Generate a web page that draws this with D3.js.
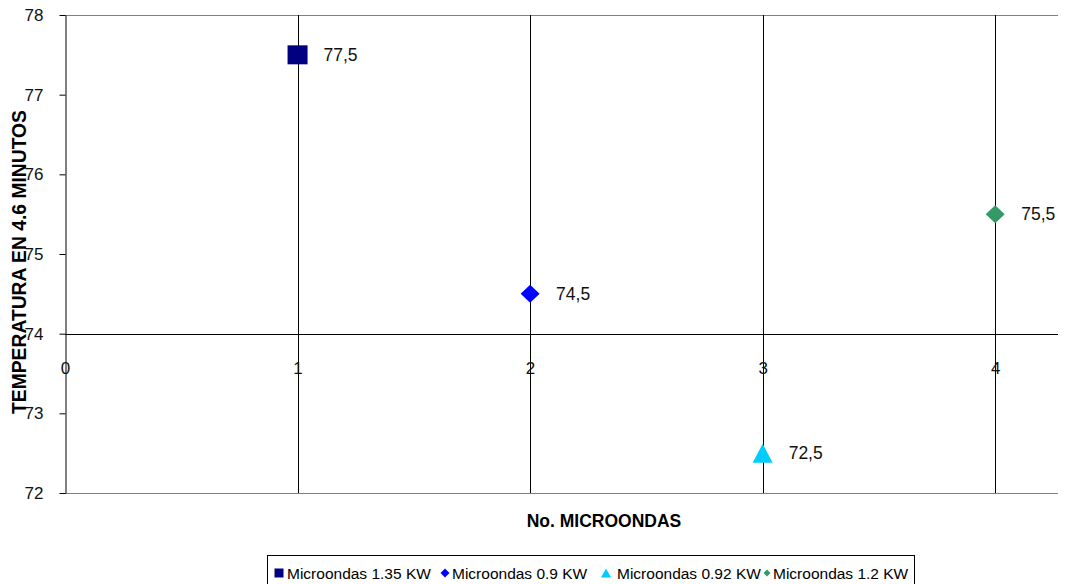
<!DOCTYPE html>
<html><head><meta charset="utf-8">
<script src="https://cdn.jsdelivr.net/npm/d3@7"></script>
<style>body{margin:0;background:#fff}svg{display:block}text{font-family:"Liberation Sans",Arial,sans-serif}</style>
</head><body>
<svg id="c" width="1068" height="584"></svg>
<script>
const seriesNames = ["Microondas 1.35 KW","Microondas 0.9 KW","Microondas 0.92 KW","Microondas 1.2 KW"];
const xValues = [1,2,3,4];
const yValues = [77.5,74.5,72.5,75.5];
const labels = ["77,5","74,5","72,5","75,5"];
const shapes = ["square","diamond","triangle","diamond"];
const colors = ["#000080","#0000FF","#00CCFF","#339966"];
const xTicks = [0,1,2,3,4];
const yTicks = [72,73,74,75,76,77,78];

const svg = d3.select("#c");
const L=65,R=1058,T=15,B=493;
const x = d3.scaleLinear().domain([0,4.27]).range([L,R]);
const y = d3.scaleLinear().domain([72,78]).range([B,T]);

// marker path generators (w = bbox width, h = bbox height)
function markerPath(shape, w, h){
  const a=w/2, b=h/2;
  if(shape==="square") return `M${-a},${-b}H${a}V${b}H${-a}Z`;
  if(shape==="diamond") return `M0,${-b}L${a},0L0,${b}L${-a},0Z`;
  return `M0,${-b}L${a},${b}L${-a},${b}Z`;
}

// top/bottom borders
svg.append("line").attr("x1",L).attr("x2",R).attr("y1",y(78)+0.5).attr("y2",y(78)+0.5).attr("stroke","#808080");
svg.append("line").attr("x1",L).attr("x2",R).attr("y1",y(72)+0.5).attr("y2",y(72)+0.5).attr("stroke","#808080");
// vertical gridlines
svg.selectAll(".vg").data(xTicks.filter(d=>d>0)).join("line")
  .attr("x1",d=>Math.round(x(d))+0.5).attr("x2",d=>Math.round(x(d))+0.5)
  .attr("y1",T).attr("y2",B).attr("stroke","#000");
// y axis
const ya = svg.append("g").attr("transform",`translate(${L+0.5},0)`)
  .call(d3.axisLeft(y).tickValues(yTicks).tickSize(6).tickSizeOuter(0).tickPadding(16).tickFormat(d3.format("d")));
ya.selectAll("path,line").attr("stroke","#000");
ya.selectAll("text").attr("font-size",17).attr("fill","#111").attr("font-family","Liberation Sans, Arial");
// x axis at y=74
const xa = svg.append("g").attr("transform",`translate(0,${Math.round(y(74))+0.5})`)
  .call(d3.axisBottom(x).tickValues(xTicks).tickSize(0).tickPadding(27).tickFormat(d3.format("d")));
xa.select("path").attr("stroke","#000").attr("d",`M${L},0H${R}`);
xa.selectAll("text").attr("font-size",17).attr("fill","#111").attr("font-family","Liberation Sans, Arial");

const msize = {square:[20,19], diamond:[19,18], triangle:[20,19]};
const g = svg.append("g");
xValues.forEach((xv,i)=>{
  const sh=shapes[i];
  const [w,h]=msize[sh];
  g.append("path").attr("d",markerPath(sh,w,h)).attr("fill",colors[i])
   .attr("transform",`translate(${x(xv)},${y(yValues[i])})`);
  g.append("text").attr("x",x(xv)+26).attr("y",y(yValues[i])+6).attr("font-size",17.5).attr("fill","#111").text(labels[i]);
});

// titles
svg.append("text").attr("transform",`translate(26,262) rotate(-90)`).attr("text-anchor","middle")
  .attr("font-size",19.3).attr("font-weight","bold").text("TEMPERATURA EN 4.6 MINUTOS");
svg.append("text").attr("x",604).attr("y",527).attr("text-anchor","middle")
  .attr("font-size",17.5).attr("font-weight","bold").text("No. MICROONDAS");

// legend
const lg = svg.append("g");
lg.append("rect").attr("x",267.5).attr("y",555.5).attr("width",647).attr("height",40).attr("fill","none").attr("stroke","#000");
const lmx = [279,445,606,767];
const ltx = [287,452,617,773];
const lsz = [[9,9],[9,9],[10,9],[7,7]];
seriesNames.forEach((n,i)=>{
  lg.append("path").attr("d",markerPath(shapes[i],lsz[i][0],lsz[i][1])).attr("fill",colors[i])
    .attr("transform",`translate(${lmx[i]},${573})`);
  lg.append("text").attr("x",ltx[i]).attr("y",578.5).attr("font-size",15.5).attr("fill","#000").text(n);
});
</script>
</body></html>
